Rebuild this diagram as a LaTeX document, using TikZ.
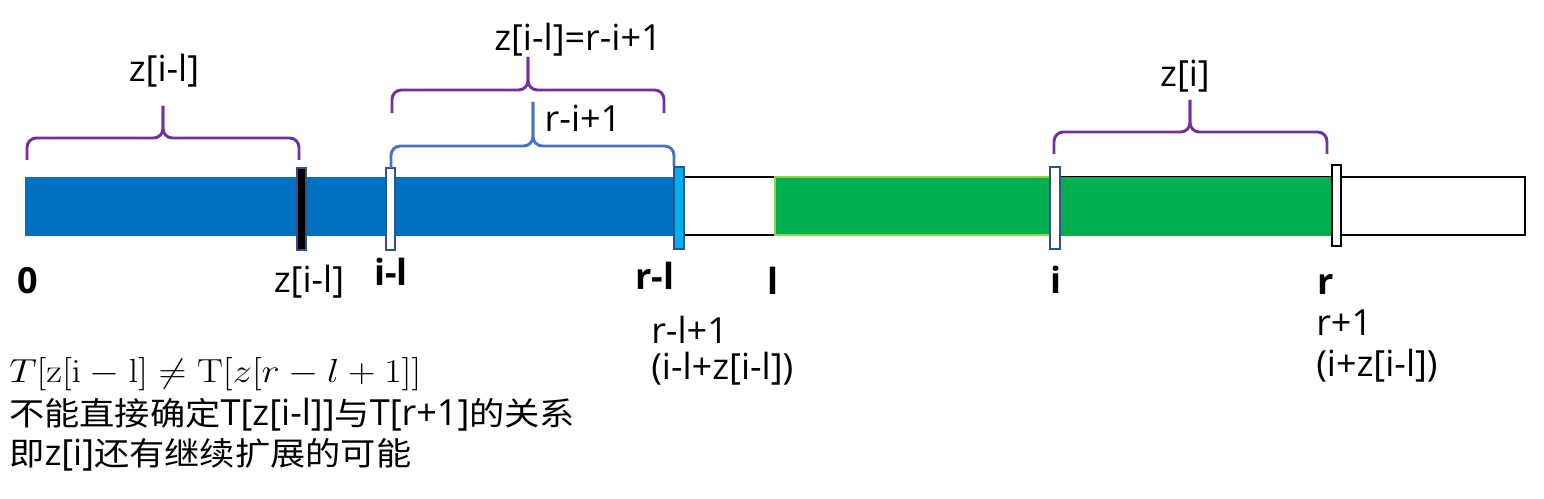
\RequirePackage{fix-cm}
\documentclass[tikz,border=0pt]{standalone}
\usepackage{amsmath,amssymb}
\usepackage{graphicx}
\usepackage[no-math]{fontspec}
\setmainfont{Open Sans}
\newfontfamily\cjk{Noto Sans CJK SC}[Scale=0.89,FakeStretch=1.1]
\usepackage{xcolor}
\usepackage{tikz}
\usetikzlibrary{positioning}

\definecolor{barblue}{RGB}{0,112,192}
\definecolor{bargreen}{RGB}{0,176,80}
\definecolor{lightgreen}{RGB}{146,208,80}
\definecolor{markcyan}{RGB}{0,176,240}
\definecolor{markblue}{RGB}{47,82,143}
\definecolor{bracepurple}{RGB}{112,48,160}
\definecolor{braceblue}{RGB}{68,114,196}

\tikzset{
  pbrace/.style={draw=bracepurple, line width=2.2pt, rounded corners=7pt},
  bbrace/.style={draw=braceblue, line width=2.2pt, rounded corners=7pt},
  marker/.style={draw=markblue, line width=1.5pt},
  lbl/.style={inner sep=0.75pt, font=\fontsize{27}{32}\selectfont},
  blbl/.style={inner sep=0.75pt, font=\fontsize{27}{32}\selectfont\bfseries},
}

\begin{document}
\begin{tikzpicture}[x=0.75pt,y=0.75pt,yscale=-1,xscale=1]
\useasboundingbox (0,0) rectangle (1544,499);

%Shape: Rectangle [white tail]
\draw [line width=1.5pt] (676,177) rectangle (1525,235) ;
%Shape: Rectangle [blue part]
\fill [barblue] (25,177) rectangle (677,236) ;
%Shape: Rectangle [green part]
\draw [draw=lightgreen, fill=bargreen, line width=1.2pt] (775,177) rectangle (1052,235) ;
\fill [bargreen] (1052,177) rectangle (1335,236) ;

%Shape: Markers
\draw [marker, fill=black] (297,168) rectangle (306,250) ;
\draw [marker, fill=white] (386,168) rectangle (395,250) ;
\draw [marker, fill=markcyan] (674,167) rectangle (684,249) ;
\draw [marker, fill=white] (1050,167) rectangle (1060,249) ;
\draw [line width=1.5pt, fill=white] (1332,165) rectangle (1341,246) ;

%Shape: Brace [z[i-l]]
\draw [pbrace] (27,160) -- (27,138) -- (163,138) -- (163,106) ;
\draw [pbrace] (299,160) -- (299,138) -- (163,138) -- (163,106) ;
%Shape: Brace [z[i-l]=r-i+1]
\draw [pbrace] (392,113) -- (392,90) -- (528,90) -- (528,57) ;
\draw [pbrace] (664,113) -- (664,90) -- (528,90) -- (528,57) ;
%Shape: Brace [r-i+1]
\draw [bbrace] (391,168) -- (391,146) -- (533,146) -- (533,102) ;
\draw [bbrace] (674,166) -- (674,146) -- (533,146) -- (533,102) ;
%Shape: Brace [z[i]]
\draw [pbrace] (1054,154) -- (1054,132) -- (1190,132) -- (1190,100) ;
\draw [pbrace] (1327,154) -- (1327,132) -- (1190,132) -- (1190,100) ;

% Text Node
\node [lbl] (zilup) at (164,71) {z[i-l]};
% Text Node
\node [lbl] (zileq) at (578,40) {z[i-l]=r-i+1};
% Text Node
\node [lbl] (rip) at (583,118) {r-i+1};
% Text Node
\node [lbl] (zi) at (1185,76) {z[i]};
% Text Node
\node [blbl] (pzero) at (28,281) {0};
% Text Node
\node [lbl] (zil) at (309,282) {z[i-l]};
% Text Node
\node [blbl] (pil) at (391,272) {i-l};
% Text Node
\node [blbl] (prl) at (655,276) {r-l};
% Text Node
\node [blbl] (pl) at (773,281) {l};
% Text Node
\node [blbl] (pi) at (1056,280) {i};
% Text Node
\node [blbl] (pr) at (1326,284) {r};
% Text Node
\node [lbl, anchor=west] (rlone) at (650,330) {r-l+1};
% Text Node
\node [lbl, anchor=west] (ilz) at (650,369) {(i-l+z[i-l])};
% Text Node
\node [lbl, anchor=west] (rone) at (1315,323) {r+1};
% Text Node
\node [lbl, anchor=west] (iz) at (1315,366) {(i+z[i-l])};

% Text Node
\node [lbl, anchor=west, font=\fontsize{25}{30}\selectfont] (neq) at (8,374) {\scalebox{1.16}[1]{$T[\mathrm{z}[\mathrm{i}-\mathrm{l}]\neq\mathrm{T}[z[r-l+1]]$}};
% Text Node
\node [lbl, anchor=west] (cnone) at (8,415) {{\cjk 不能直接确定}T[z[i-l]]{\cjk 与}T[r+1]{\cjk 的关系}};
% Text Node
\node [lbl, anchor=west] (cntwo) at (8,455) {{\cjk 即}z[i]{\cjk 还有继续扩展的可能}};

\end{tikzpicture}
\end{document}
